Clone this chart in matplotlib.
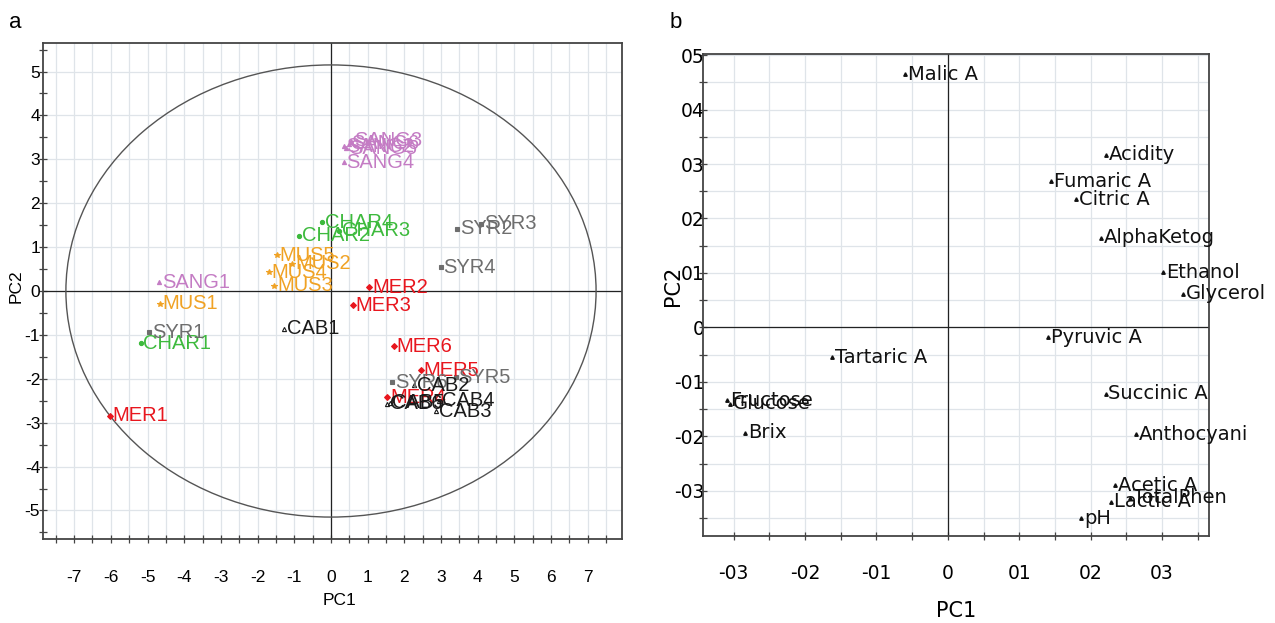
import matplotlib
matplotlib.use('Agg')
import matplotlib.pyplot as plt
from matplotlib.patches import Ellipse
from matplotlib.ticker import MultipleLocator, FixedLocator
import numpy as np

plt.rcParams['axes.unicode_minus'] = False

# ---------------- data: panel a (scores) ----------------
sample_names = ['SANG1', 'SANG2', 'SANG3', 'SANG4', 'SANG5', 'SANG6',
                'MUS1', 'MUS2', 'MUS3', 'MUS4', 'MUS5',
                'CHAR1', 'CHAR2', 'CHAR3', 'CHAR4',
                'MER1', 'MER2', 'MER3', 'MER4', 'MER5', 'MER6',
                'SYR1', 'SYR2', 'SYR3', 'SYR4', 'SYR5', 'SYR6',
                'CAB1', 'CAB2', 'CAB3', 'CAB4', 'CAB5', 'CAB6']
sample_pc1 = [-4.69, 0.35, 0.55, 0.35, 0.42, 0.48,
              -4.66, -1.05, -1.55, -1.69, -1.47,
              -5.19, -0.87, 0.22, -0.25,
              -6.03, 1.04, 0.60, 1.53, 2.44, 1.72,
              -4.96, 3.44, 4.10, 2.99, 3.40, 1.66,
              -1.28, 2.27, 2.87, 2.95, 1.60, 1.54]
sample_pc2 = [0.20, 3.30, 3.42, 2.93, 3.25, 3.36,
              -0.29, 0.62, 0.12, 0.43, 0.81,
              -1.19, 1.26, 1.37, 1.57,
              -2.84, 0.09, -0.33, -2.42, -1.81, -1.26,
              -0.94, 1.42, 1.53, 0.54, -1.96, -2.08,
              -0.86, -2.15, -2.74, -2.50, -2.55, -2.57]
sample_group = ['SANG'] * 6 + ['MUS'] * 5 + ['CHAR'] * 4 + ['MER'] * 6 + ['SYR'] * 6 + ['CAB'] * 6

group_colors = {'SANG': '#c47cc4', 'MUS': '#f0a224', 'CHAR': '#3dba3d',
                'MER': '#e8161e', 'SYR': '#6e6e6e', 'CAB': '#1a1a1a'}
group_markers = {'SANG': '^', 'MUS': '*', 'CHAR': 'o', 'MER': 'D', 'SYR': 's', 'CAB': '^'}

score_xticks = list(range(-7, 8))
score_yticks = list(range(-5, 6))

# ---------------- data: panel b (loadings) ----------------
var_names = ['Malic A', 'Acidity', 'Fumaric A', 'Citric A', 'AlphaKetog', 'Ethanol',
             'Glycerol', 'Pyruvic A', 'Tartaric A', 'Fructose', 'Glucose', 'Brix',
             'Succinic A', 'Anthocyani', 'Acetic A', 'TotalPhen', 'Lactic A', 'pH']
var_pc1 = [-0.060, 0.222, 0.145, 0.180, 0.214, 0.302,
           0.330, 0.140, -0.162, -0.309, -0.305, -0.284,
           0.221, 0.264, 0.234, 0.255, 0.229, 0.187]
var_pc2 = [0.465, 0.317, 0.268, 0.235, 0.165, 0.101,
           0.062, -0.018, -0.055, -0.134, -0.140, -0.193,
           -0.122, -0.196, -0.290, -0.313, -0.320, -0.350]

load_xticks = [-0.3, -0.2, -0.1, 0.0, 0.1, 0.2, 0.3]
load_xticklabels = ['-03', '-02', '-01', '0', '01', '02', '03']
load_yticks = [-0.3, -0.2, -0.1, 0.0, 0.1, 0.2, 0.3, 0.4, 0.5]
load_yticklabels = ['-03', '-02', '-01', '0', '01', '02', '03', '04', '05']

# ---------------- figure ----------------
fig = plt.figure(figsize=(12.75, 6.23), dpi=100)
grid_c = '#dfe4e9'
frame_c = '#444444'

# ---- panel a ----
axa = fig.add_axes([0.0337, 0.1348, 0.4541, 0.7962])
axa.set_xlim(-7.85, 7.93)
axa.set_ylim(-5.65, 5.65)
axa.xaxis.set_major_locator(FixedLocator(score_xticks))
axa.xaxis.set_minor_locator(MultipleLocator(0.5))
axa.yaxis.set_major_locator(FixedLocator(score_yticks))
axa.yaxis.set_minor_locator(MultipleLocator(0.5))
axa.grid(which='both', axis='x', color=grid_c, lw=0.9)
axa.grid(which='major', axis='y', color=grid_c, lw=0.9)
axa.set_axisbelow(True)
for s in axa.spines.values():
    s.set_color(frame_c)
    s.set_linewidth(1.3)
axa.tick_params(which='both', direction='inout', length=6, width=0.9, color=frame_c)
axa.tick_params(axis='x', pad=19, labelsize=12.5)
axa.tick_params(axis='y', pad=-1, labelsize=12.5)
for lab in axa.get_xticklabels() + axa.get_yticklabels():
    lab.set_family('Liberation Sans')
axa.axhline(0, color='#222222', lw=0.9, zorder=1.5)
axa.axvline(0, color='#222222', lw=0.9, zorder=1.5)
axa.add_patch(Ellipse((0, 0), 14.45, 10.3, fill=False, edgecolor='#555555', lw=1.0, zorder=1.6))

for name, x, y, g in zip(sample_names, sample_pc1, sample_pc2, sample_group):
    c = group_colors[g]
    m = group_markers[g]
    fc = 'none' if g == 'CAB' else c
    ms = 4 if m == '*' else 3
    axa.plot([x], [y], marker=m, ms=ms, color=c, mfc=fc, mec=c, mew=0.8, ls='none', zorder=3)
    axa.annotate(name, (x, y), xytext=(2, 0), textcoords='offset points',
                 ha='left', va='center', fontsize=14.5, color=c,
                 family='Liberation Sans', zorder=4)

axa.set_xlabel('PC1', family='Liberation Sans', fontsize=12.5)
axa.set_ylabel('PC2', family='Liberation Sans', fontsize=12.5)
axa.xaxis.set_label_coords(0.512, -0.108)
axa.yaxis.set_label_coords(-0.033, 0.51)

# ---- panel b ----
axb = fig.add_axes([0.5514, 0.1396, 0.3969, 0.7737])
axb.set_xlim(-0.343, 0.366)
axb.set_ylim(-0.383, 0.502)
axb.xaxis.set_major_locator(FixedLocator(load_xticks))
axb.xaxis.set_minor_locator(MultipleLocator(0.05))
axb.yaxis.set_major_locator(FixedLocator(load_yticks))
axb.yaxis.set_minor_locator(MultipleLocator(0.05))
axb.set_xticklabels(load_xticklabels)
axb.set_yticklabels(load_yticklabels)
axb.grid(which='both', color=grid_c, lw=0.9)
axb.set_axisbelow(True)
for s in axb.spines.values():
    s.set_color(frame_c)
    s.set_linewidth(1.3)
axb.tick_params(which='both', direction='inout', length=6, width=0.9, color=frame_c)
axb.tick_params(axis='x', pad=17, labelsize=13.5)
axb.tick_params(axis='y', pad=-4, labelsize=13.5)
axb.axhline(0, color='#222222', lw=0.9, zorder=1.5)
axb.axvline(0, color='#222222', lw=0.9, zorder=1.5)

for name, x, y in zip(var_names, var_pc1, var_pc2):
    axb.plot([x], [y], marker='^', ms=2.5, color='#111111', ls='none', zorder=3)
    axb.annotate(name, (x, y), xytext=(2, 0), textcoords='offset points',
                 ha='left', va='center', fontsize=14, color='#111111',
                 family='DejaVu Sans', zorder=4)

axb.set_xlabel('PC1', family='DejaVu Sans', fontsize=15)
axb.set_ylabel('PC2', family='DejaVu Sans', fontsize=15)
axb.xaxis.set_label_coords(0.5, -0.135)
axb.yaxis.set_label_coords(-0.04, 0.52)

fig.text(15 / 1275, 1 - 22 / 623, 'a', fontsize=16, ha='center', va='center', family='Liberation Sans')
fig.text(676 / 1275, 1 - 22 / 623, 'b', fontsize=16, ha='center', va='center', family='Liberation Sans')

fig.savefig('out.png', dpi=100)
